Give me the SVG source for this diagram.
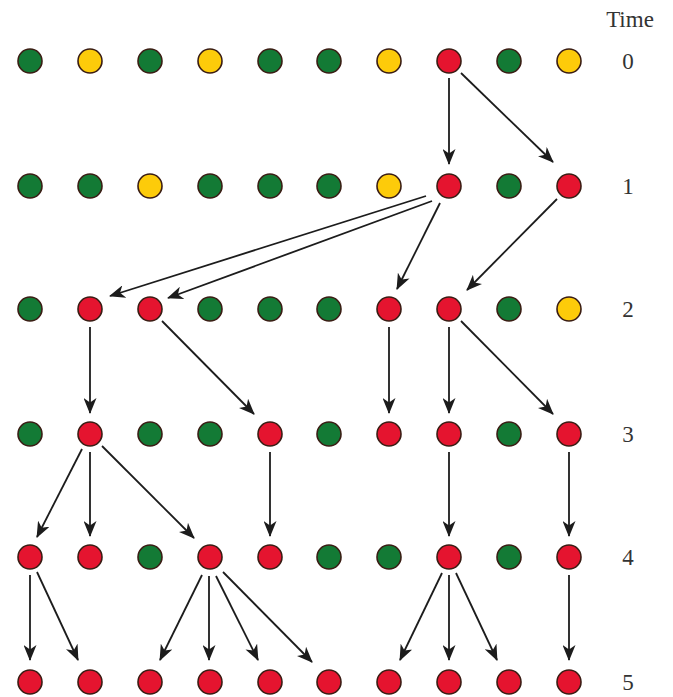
<svg xmlns="http://www.w3.org/2000/svg" width="673" height="697" viewBox="0 0 673 697">
<style>
.g{fill:#137a35}.y{fill:#fdcb0a}.r{fill:#e5142f}
circle{stroke:#3a1d14;stroke-width:1.6}
.c line{stroke:#1c1c1c;stroke-width:1.8;marker-end:url(#ah)}
text{font-family:"Liberation Serif","DejaVu Serif",serif;font-size:23px;fill:#333;text-anchor:middle}
</style>
<defs>
<marker id="ah" markerUnits="userSpaceOnUse" markerWidth="16" markerHeight="13" refX="15" refY="6.5" orient="auto" viewBox="0 0 16 13">
<path d="M0,0 L16,6.5 L0,13 L4.5,6.5 z" fill="#1c1c1c"/>
</marker>
</defs>
<rect width="673" height="697" fill="#fff"/>
<text x="630" y="27">Time</text>
<g id="labels">
<text x="628" y="69">0</text>
<text x="628" y="194">1</text>
<text x="628" y="317">2</text>
<text x="628" y="442">3</text>
<text x="628" y="565">4</text>
<text x="628" y="690">5</text>
</g>
<g class="c" id="connectors">
<line x1="449" y1="78" x2="449" y2="164"/>
<line x1="461" y1="73" x2="553" y2="162"/>
<line x1="426" y1="196" x2="110" y2="296"/>
<line x1="432" y1="201" x2="168" y2="298"/>
<line x1="440" y1="203" x2="397" y2="289"/>
<line x1="557" y1="199" x2="467" y2="290"/>
<line x1="90" y1="327" x2="90" y2="413"/>
<line x1="162" y1="321" x2="254" y2="414"/>
<line x1="389" y1="327" x2="389" y2="413"/>
<line x1="449" y1="327" x2="449" y2="413"/>
<line x1="461" y1="321" x2="553" y2="414"/>
<line x1="82" y1="449" x2="37" y2="537"/>
<line x1="90" y1="452" x2="90" y2="536"/>
<line x1="102" y1="446" x2="194" y2="538"/>
<line x1="270" y1="452" x2="270" y2="536"/>
<line x1="449" y1="452" x2="449" y2="536"/>
<line x1="569" y1="452" x2="569" y2="536"/>
<line x1="30" y1="575" x2="30" y2="660"/>
<line x1="37" y1="572" x2="78" y2="660"/>
<line x1="202" y1="575" x2="160" y2="660"/>
<line x1="209" y1="576" x2="209" y2="660"/>
<line x1="216" y1="576" x2="258" y2="660"/>
<line x1="223" y1="572" x2="312" y2="662"/>
<line x1="442" y1="573" x2="400" y2="660"/>
<line x1="449" y1="575" x2="449" y2="660"/>
<line x1="456" y1="573" x2="497" y2="660"/>
<line x1="569" y1="575" x2="569" y2="660"/>
</g>
<g id="row0">
<circle id="n0_0" class="g" cx="30" cy="61" r="12"/>
<circle id="n0_1" class="y" cx="90" cy="61" r="12"/>
<circle id="n0_2" class="g" cx="150" cy="61" r="12"/>
<circle id="n0_3" class="y" cx="210" cy="61" r="12"/>
<circle id="n0_4" class="g" cx="270" cy="61" r="12"/>
<circle id="n0_5" class="g" cx="329" cy="61" r="12"/>
<circle id="n0_6" class="y" cx="389" cy="61" r="12"/>
<circle id="n0_7" class="r" cx="449" cy="61" r="12"/>
<circle id="n0_8" class="g" cx="509" cy="61" r="12"/>
<circle id="n0_9" class="y" cx="569" cy="61" r="12"/>
</g>
<g id="row1">
<circle id="n1_0" class="g" cx="30" cy="186" r="12"/>
<circle id="n1_1" class="g" cx="90" cy="186" r="12"/>
<circle id="n1_2" class="y" cx="150" cy="186" r="12"/>
<circle id="n1_3" class="g" cx="210" cy="186" r="12"/>
<circle id="n1_4" class="g" cx="270" cy="186" r="12"/>
<circle id="n1_5" class="g" cx="329" cy="186" r="12"/>
<circle id="n1_6" class="y" cx="389" cy="186" r="12"/>
<circle id="n1_7" class="r" cx="449" cy="186" r="12"/>
<circle id="n1_8" class="g" cx="509" cy="186" r="12"/>
<circle id="n1_9" class="r" cx="569" cy="186" r="12"/>
</g>
<g id="row2">
<circle id="n2_0" class="g" cx="30" cy="309" r="12"/>
<circle id="n2_1" class="r" cx="90" cy="309" r="12"/>
<circle id="n2_2" class="r" cx="150" cy="309" r="12"/>
<circle id="n2_3" class="g" cx="210" cy="309" r="12"/>
<circle id="n2_4" class="g" cx="270" cy="309" r="12"/>
<circle id="n2_5" class="g" cx="329" cy="309" r="12"/>
<circle id="n2_6" class="r" cx="389" cy="309" r="12"/>
<circle id="n2_7" class="r" cx="449" cy="309" r="12"/>
<circle id="n2_8" class="g" cx="509" cy="309" r="12"/>
<circle id="n2_9" class="y" cx="569" cy="309" r="12"/>
</g>
<g id="row3">
<circle id="n3_0" class="g" cx="30" cy="434" r="12"/>
<circle id="n3_1" class="r" cx="90" cy="434" r="12"/>
<circle id="n3_2" class="g" cx="150" cy="434" r="12"/>
<circle id="n3_3" class="g" cx="210" cy="434" r="12"/>
<circle id="n3_4" class="r" cx="270" cy="434" r="12"/>
<circle id="n3_5" class="g" cx="329" cy="434" r="12"/>
<circle id="n3_6" class="r" cx="389" cy="434" r="12"/>
<circle id="n3_7" class="r" cx="449" cy="434" r="12"/>
<circle id="n3_8" class="g" cx="509" cy="434" r="12"/>
<circle id="n3_9" class="r" cx="569" cy="434" r="12"/>
</g>
<g id="row4">
<circle id="n4_0" class="r" cx="30" cy="557" r="12"/>
<circle id="n4_1" class="r" cx="90" cy="557" r="12"/>
<circle id="n4_2" class="g" cx="150" cy="557" r="12"/>
<circle id="n4_3" class="r" cx="210" cy="557" r="12"/>
<circle id="n4_4" class="r" cx="270" cy="557" r="12"/>
<circle id="n4_5" class="g" cx="329" cy="557" r="12"/>
<circle id="n4_6" class="g" cx="389" cy="557" r="12"/>
<circle id="n4_7" class="r" cx="449" cy="557" r="12"/>
<circle id="n4_8" class="g" cx="509" cy="557" r="12"/>
<circle id="n4_9" class="r" cx="569" cy="557" r="12"/>
</g>
<g id="row5">
<circle id="n5_0" class="r" cx="30" cy="682" r="12"/>
<circle id="n5_1" class="r" cx="90" cy="682" r="12"/>
<circle id="n5_2" class="r" cx="150" cy="682" r="12"/>
<circle id="n5_3" class="r" cx="210" cy="682" r="12"/>
<circle id="n5_4" class="r" cx="270" cy="682" r="12"/>
<circle id="n5_5" class="r" cx="329" cy="682" r="12"/>
<circle id="n5_6" class="r" cx="389" cy="682" r="12"/>
<circle id="n5_7" class="r" cx="449" cy="682" r="12"/>
<circle id="n5_8" class="r" cx="509" cy="682" r="12"/>
<circle id="n5_9" class="r" cx="569" cy="682" r="12"/>
</g>
</svg>
